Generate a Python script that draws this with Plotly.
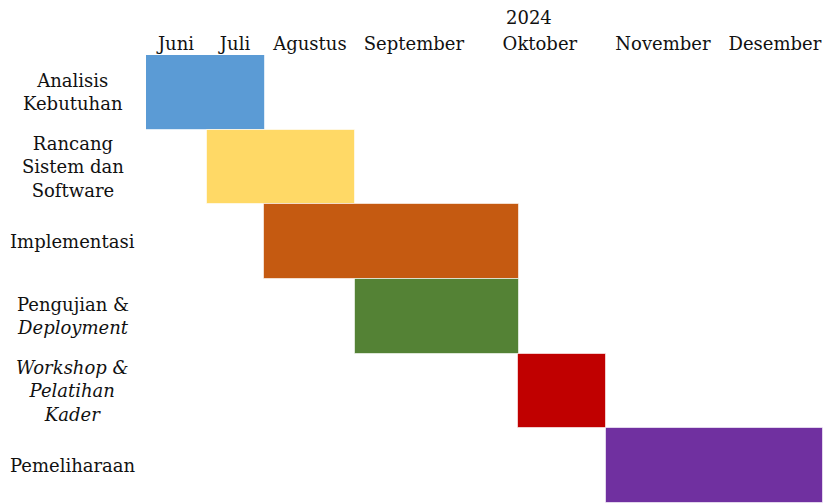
import plotly.graph_objects as go

# data (time in weeks from start of June 2024)
tasks = ["Analisis Kebutuhan", "Rancang Sistem dan Software", "Implementasi",
         "Pengujian & Deployment", "Workshop & Pelatihan Kader", "Pemeliharaan"]
task_labels = ["Analisis<br>Kebutuhan", "Rancang<br>Sistem dan<br>Software", "Implementasi",
               "Pengujian &<br><i>Deployment</i>", "<i>Workshop &<br>Pelatihan<br>Kader</i>",
               "Pemeliharaan"]
start = [0.0, 2.52, 4.88, 8.64, 15.38, 19.02]
finish = [4.92, 8.64, 15.43, 15.43, 19.02, 28.0]
colors = ["#5B9BD5", "#FFD966", "#C55A11", "#548235", "#C00000", "#7030A0"]
month_pos = [1.24, 3.68, 6.78, 11.08, 16.29, 21.38, 26.01]
month_labels = ["Juni", "Juli", "Agustus", "September", "Oktober", "November", "Desember"]
year_label = "2024"

FONT = "DejaVu Serif"

duration = [f - s for s, f in zip(start, finish)]

fig = go.Figure(go.Bar(
    y=tasks, x=duration, base=start, orientation="h",
    marker=dict(color=colors, line=dict(color="rgba(255,255,255,0.6)", width=1)),
    hoverinfo="skip",
))

annotations = []
for t, lab in zip(tasks, task_labels):
    annotations.append(dict(
        x=-0.108, xref="paper", y=t, yref="y", text=lab, showarrow=False,
        xanchor="center", yanchor="middle", align="center",
        font=dict(family=FONT, size=18, color="#111"),
    ))
annotations.append(dict(
    x=14.8, xref="x", y=1.0, yref="paper", yshift=25, text=year_label, showarrow=False,
    xanchor="left", yanchor="bottom", font=dict(family=FONT, size=18, color="#111"),
))

fig.update_layout(
    width=823, height=503,
    margin=dict(l=146, r=0, t=55, b=0),
    plot_bgcolor="white", paper_bgcolor="white",
    bargap=0, showlegend=False,
    font=dict(family=FONT, size=18, color="#111"),
    annotations=annotations,
    xaxis=dict(side="top", range=[0, 28], tickvals=month_pos, ticktext=month_labels,
               showgrid=False, zeroline=False, showline=False, ticks="",
               tickfont=dict(family=FONT, size=18, color="#111")),
    yaxis=dict(autorange="reversed", showticklabels=False, showgrid=False,
               zeroline=False, showline=False, ticks=""),
)

fig.write_html("out.html", config={"displayModeBar": False},
               post_script="document.body.style.margin='0';")
